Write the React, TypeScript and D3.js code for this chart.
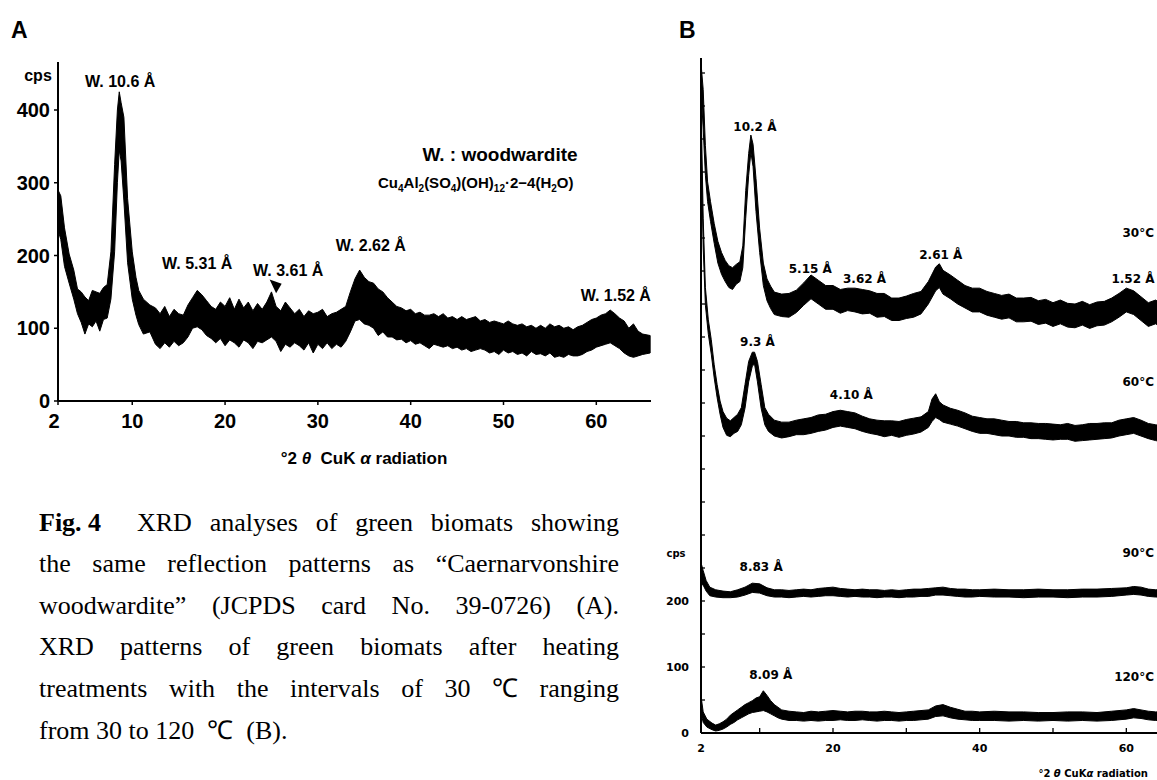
import React from 'react';
import * as d3 from 'd3';

// ---------- DATA ----------
// Panel A: [2theta, lower edge of noise band (cps), upper edge (cps)]
const patternA: [number, number, number][] = [
  [2.0, 235, 290], [2.3, 222, 282], [2.7, 185, 238], [3.2, 162, 202], [3.7, 140, 180],
  [4.1, 120, 154], [4.5, 108, 150], [4.9, 92, 143], [5.3, 106, 138], [5.7, 102, 152],
  [6.1, 110, 150], [6.5, 96, 148], [6.9, 112, 156], [7.3, 114, 160], [7.7, 140, 205],
  [8.1, 205, 325], [8.4, 300, 400], [8.6, 345, 425], [8.8, 330, 410], [9.1, 275, 390],
  [9.5, 190, 278], [10.0, 140, 205], [10.4, 118, 170], [10.7, 105, 152], [11.2, 92, 140],
  [11.9, 95, 132], [12.5, 78, 128], [13.0, 72, 120], [13.5, 80, 130], [14.0, 74, 116],
  [14.5, 82, 126], [15.0, 76, 120], [15.5, 80, 118], [16.0, 88, 132], [16.5, 100, 142],
  [17.0, 102, 152], [17.5, 98, 146], [18.0, 90, 138], [18.5, 86, 130], [19.0, 80, 126],
  [19.5, 86, 136], [20.0, 76, 130], [20.5, 84, 142], [21.0, 80, 126], [21.5, 74, 140],
  [22.0, 84, 128], [22.5, 80, 136], [23.0, 72, 124], [23.5, 82, 134], [24.0, 80, 126],
  [24.5, 84, 136], [25.0, 88, 150], [25.5, 82, 130], [26.0, 68, 124], [26.5, 78, 136],
  [27.0, 74, 128], [27.5, 80, 120], [28.0, 76, 126], [28.5, 70, 116], [29.0, 80, 124],
  [29.5, 66, 120], [30.0, 78, 122], [30.5, 72, 126], [31.0, 80, 116], [31.5, 72, 120],
  [32.0, 78, 122], [32.5, 74, 126], [33.0, 82, 130], [33.5, 95, 150], [34.0, 110, 168],
  [34.5, 112, 180], [35.0, 106, 170], [35.5, 104, 164], [36.0, 100, 162], [36.5, 90, 154],
  [37.0, 95, 150], [37.5, 88, 142], [38.0, 88, 136], [38.5, 84, 130], [39.0, 85, 128],
  [39.5, 80, 124], [40.0, 83, 126], [40.5, 78, 120], [41.0, 80, 122], [41.5, 76, 118],
  [42.0, 72, 118], [42.5, 78, 120], [43.0, 76, 116], [43.5, 74, 120], [44.0, 76, 114],
  [44.5, 72, 116], [45.0, 74, 112], [45.5, 70, 116], [46.0, 72, 112], [46.5, 68, 114],
  [47.0, 70, 116], [47.5, 72, 110], [48.0, 70, 112], [48.5, 66, 108], [49.0, 68, 110],
  [49.5, 64, 108], [50.0, 70, 106], [50.5, 66, 110], [51.0, 68, 106], [51.5, 64, 104],
  [52.0, 66, 106], [52.5, 62, 102], [53.0, 68, 104], [53.5, 64, 100], [54.0, 65, 104],
  [54.5, 62, 100], [55.0, 66, 106], [55.5, 60, 102], [56.0, 62, 104], [56.5, 60, 100],
  [57.0, 64, 102], [57.5, 62, 98], [58.0, 62, 102], [58.5, 64, 104], [59.0, 68, 108],
  [59.5, 70, 112], [60.0, 74, 114], [60.5, 76, 118], [61.0, 78, 120], [61.5, 80, 125],
  [62.0, 76, 120], [62.5, 72, 114], [63.0, 66, 110], [63.5, 62, 100], [64.0, 60, 106],
  [64.5, 62, 96], [65.0, 64, 92], [65.8, 66, 90],
];

// Panel B: plotted intensity (cps on the stacked axis), [2theta, low, high]
const pattern30C: [number, number, number][] = [
  [2.0, 975, 1015], [2.3, 915, 975], [2.6, 845, 890], [2.9, 805, 835], [3.3, 775, 805],
  [3.8, 742, 772], [4.3, 712, 745], [4.8, 695, 728], [5.3, 684, 716], [5.8, 675, 708],
  [6.3, 672, 705], [6.8, 680, 710], [7.3, 684, 714], [7.7, 705, 738], [8.1, 780, 822],
  [8.5, 845, 878], [8.8, 880, 906], [9.1, 858, 892], [9.5, 790, 840], [10.0, 728, 764],
  [10.5, 678, 712], [11.0, 655, 688], [11.5, 643, 677], [12, 634, 668], [13, 631, 665],
  [14, 630, 666], [15, 637, 671], [16, 648, 682], [17, 658, 694], [18, 650, 686],
  [19, 642, 678], [20, 642, 678], [21, 636, 672], [22, 640, 674], [23, 638, 674],
  [24, 635, 672], [25, 636, 670], [26, 630, 666], [27, 631, 666], [28, 625, 659],
  [29, 625, 659], [30, 628, 662], [31, 630, 666], [32, 635, 669], [33, 650, 684],
  [34, 670, 706], [34.5, 675, 711], [35, 665, 701], [36, 658, 694], [37, 650, 686],
  [38, 644, 678], [39, 638, 674], [40, 638, 674], [41, 633, 669], [42, 630, 666],
  [43, 627, 663], [44, 629, 665], [45, 623, 659], [46, 623, 659], [47, 624, 660],
  [48, 619, 655], [49, 621, 657], [50, 616, 652], [51, 620, 656], [52, 615, 651],
  [53, 614, 650], [54, 618, 654], [55, 613, 649], [56, 617, 653], [57, 618, 654],
  [58, 623, 659], [59, 630, 666], [60, 638, 674], [61, 634, 670], [62, 625, 661],
  [63, 616, 652], [64, 620, 656], [65, 613, 649],
];

const pattern60C: [number, number, number][] = [
  [2.0, 900, 960], [2.3, 735, 780], [2.6, 648, 675], [3.0, 604, 626], [3.4, 574, 596],
  [3.8, 538, 558], [4.2, 508, 528], [4.6, 483, 503], [5.0, 463, 487], [5.5, 451, 477],
  [6.0, 449, 473], [6.5, 454, 478], [7.0, 457, 483], [7.5, 467, 493], [8.0, 492, 528],
  [8.5, 532, 563], [9.0, 556, 577], [9.3, 559, 577], [9.7, 532, 563], [10.2, 492, 528],
  [10.7, 467, 493], [11.2, 457, 483], [12, 450, 474], [13, 447, 471], [14, 449, 471],
  [15, 452, 474], [16, 452, 476], [17, 454, 478], [18, 457, 482], [19, 459, 483],
  [20, 463, 487], [21, 465, 489], [22, 463, 487], [23, 461, 485], [24, 457, 480],
  [25, 454, 476], [26, 452, 474], [27, 449, 473], [28, 451, 473], [29, 448, 472],
  [30, 451, 475], [31, 453, 477], [32, 456, 479], [33, 463, 487], [33.5, 472, 506],
  [34, 478, 514], [34.5, 475, 502], [35, 471, 497], [36, 468, 492], [37, 465, 489],
  [38, 461, 485], [39, 457, 480], [40, 454, 478], [41, 454, 476], [42, 452, 476],
  [43, 450, 474], [44, 450, 472], [45, 448, 472], [46, 448, 470], [47, 446, 470],
  [48, 446, 469], [49, 445, 469], [50, 444, 468], [51, 445, 467], [52, 445, 469],
  [53, 442, 466], [54, 443, 467], [55, 444, 469], [56, 445, 469], [57, 446, 470],
  [58, 447, 470], [59, 450, 474], [60, 452, 476], [61, 454, 478], [62, 450, 474],
  [63, 446, 469], [64, 443, 467], [65, 441, 465],
];

const pattern90C: [number, number, number][] = [
  [2.0, 226, 258], [2.3, 224, 246], [2.7, 215, 231], [3.2, 208, 221], [4, 206, 217],
  [5, 205, 215], [6, 205, 214], [7, 206, 217], [8, 209, 221], [9, 213, 227], [10, 212, 226],
  [11, 208, 220], [12, 206, 217], [13, 206, 217], [14, 205, 216], [15, 206, 217],
  [16, 207, 218], [17, 206, 217], [18, 207, 219], [19, 208, 220], [20, 208, 221],
  [21, 207, 219], [22, 206, 218], [23, 207, 217], [24, 206, 218], [25, 206, 217],
  [26, 205, 217], [27, 206, 216], [28, 206, 217], [29, 205, 216], [30, 206, 217],
  [31, 206, 218], [32, 207, 218], [33, 207, 219], [34, 209, 220], [35, 209, 221],
  [36, 208, 219], [37, 207, 218], [38, 206, 218], [39, 206, 217], [40, 207, 217],
  [42, 206, 218], [44, 206, 217], [46, 205, 217], [48, 206, 218], [50, 206, 217],
  [52, 205, 217], [54, 206, 218], [56, 206, 218], [58, 207, 219], [60, 209, 220],
  [61, 210, 222], [62, 209, 221], [63, 207, 218], [64, 206, 217], [65, 206, 217],
];

const pattern120C: [number, number, number][] = [
  [2.0, 30, 56], [2.3, 16, 32], [2.8, 9, 21], [3.5, 5, 15], [4.0, 3, 12], [4.5, 4, 14],
  [5.0, 6, 17], [5.5, 9, 21], [6.0, 13, 27], [6.5, 16, 31], [7.0, 20, 35], [7.5, 23, 39],
  [8.0, 26, 43], [8.5, 29, 46], [9.0, 31, 49], [9.5, 32, 53], [10.0, 33, 55], [10.5, 34, 64],
  [11.0, 32, 57], [11.5, 29, 49], [12.0, 26, 43], [12.5, 23, 39], [13, 21, 35], [14, 19, 33],
  [15, 19, 32], [16, 18, 31], [17, 19, 33], [18, 18, 32], [19, 19, 33], [20, 19, 34],
  [21, 20, 33], [22, 19, 32], [23, 19, 33], [24, 20, 33], [25, 19, 32], [26, 18, 32],
  [27, 19, 33], [28, 19, 32], [29, 18, 31], [30, 19, 32], [31, 19, 33], [32, 20, 34],
  [33, 21, 35], [34, 25, 41], [35, 26, 43], [36, 23, 39], [37, 21, 36], [38, 20, 33],
  [39, 19, 33], [40, 19, 32], [42, 19, 33], [44, 18, 32], [46, 19, 32], [48, 18, 31],
  [50, 19, 31], [52, 18, 32], [54, 19, 32], [56, 18, 31], [58, 19, 33], [60, 21, 35],
  [61, 23, 37], [62, 22, 35], [63, 20, 33], [64, 19, 32], [65, 19, 32],
];

const ticksAX = [2, 10, 20, 30, 40, 50, 60];
const ticksAY = [0, 100, 200, 300, 400];
const ticksBX = [10, 20, 30, 40, 50, 60];
const labelsBX = [2, 20, 40, 60];
const ticksBY = d3.range(0, 1001, 50);
const labelsBY = [0, 100, 200];

// annotations: [text, 2theta, cps] (label centre)
const annA: [string, number, number][] = [
  ['W. 10.6 Å', 8.7, 440],
  ['W. 5.31 Å', 17.0, 190],
  ['W. 3.61 Å', 26.8, 180],
  ['W. 2.62 Å', 35.7, 214],
  ['W. 1.52 Å', 62.1, 146],
];
const annB: [string, number, number][] = [
  ['10.2 Å', 9.35, 918],
  ['5.15 Å', 16.9, 703],
  ['3.62 Å', 24.3, 688],
  ['2.61 Å', 34.7, 724],
  ['1.52 Å', 60.9, 688],
  ['9.3 Å', 9.7, 592],
  ['4.10 Å', 22.5, 512],
  ['8.83 Å', 10.2, 251],
  ['8.09 Å', 11.5, 88],
];
const tempB: [string, number][] = [['30°C', 758], ['60°C', 532], ['90°C', 273], ['120°C', 85]];

const captionLines: string[] = [
  'XRD analyses of green biomats showing',
  'the same reflection patterns as “Caernarvonshire',
  'woodwardite” (JCPDS card No. 39-0726) (A).',
  'XRD patterns of green biomats after heating',
  'treatments with the intervals of 30 ℃ ranging',
];
const captionLast = ['from', '30', 'to', '120', ' ℃ ', '(B).'];

// ---------- LAYOUT ----------
const W = 1157;
const H = 780;
const xA = d3.scaleLinear().domain([2, 66]).range([58, 652]);
const yA = d3.scaleLinear().domain([0, 400]).range([401, 110]);
const xB = d3.scaleLinear().domain([2, 65]).range([701, 1163]);
const yB = d3.scaleLinear().domain([0, 1000]).range([733, 73]);

const SANS = "'Liberation Sans', Arial, sans-serif";
const SANS_B = "'DejaVu Sans', 'Liberation Sans', sans-serif";
const SERIF = "'Liberation Serif', 'Times New Roman', serif";

function bandPath(data: [number, number, number][], x: d3.ScaleLinear<number, number>, y: d3.ScaleLinear<number, number>) {
  const area = d3
    .area<[number, number, number]>()
    .x((d) => x(d[0]))
    .y0((d) => y(d[1]))
    .y1((d) => y(d[2]))
    .curve(d3.curveLinear);
  return area(data) || '';
}

let ctx: CanvasRenderingContext2D | null = null;
function measure(t: string, font: string): number {
  if (!ctx) ctx = document.createElement('canvas').getContext('2d');
  if (!ctx) return t.length * 11;
  ctx.font = font;
  return ctx.measureText(t).width;
}

const CAP_FONT = 26;
const capFont = `${CAP_FONT}px 'Liberation Serif', 'Times New Roman', serif`;
const capBaselines = [531, 572, 614, 655, 697, 739];

function justify(words: string[], x0: number, x1: number) {
  const widths = words.map((w) => measure(w, capFont));
  const total = widths.reduce((a, b) => a + b, 0);
  const gap = words.length > 1 ? (x1 - x0 - total) / (words.length - 1) : 0;
  const out: { w: string; x: number }[] = [];
  let x = x0;
  words.forEach((w, i) => {
    out.push({ w, x });
    x += widths[i] + gap;
  });
  return out;
}

export default function App() {
  const bandStyle = { fill: '#000', stroke: '#000', strokeWidth: 1, strokeLinejoin: 'round' as const };

  const line1 = justify(captionLines[0].split(' '), 137, 619);
  const otherLines = captionLines.slice(1).map((l) => justify(l.split(' '), 39, 619));
  let lx = 39;
  const lastLine = captionLast.map((w) => {
    const p = { w, x: lx };
    lx += measure(w, capFont) + 6.5;
    return p;
  });

  return (
    <svg
      width={W}
      height={H}
      viewBox={`0 0 ${W} ${H}`}
      style={{ position: 'absolute', left: 0, top: 0, background: '#fff' }}
    >
      <rect x={0} y={0} width={W} height={H} fill="#fff" />

      {/* ---------- Panel A ---------- */}
      <text x={11} y={38} fontFamily={SANS} fontWeight="bold" fontSize={23}>A</text>
      <text x={38} y={81} textAnchor="middle" fontFamily={SANS} fontWeight="bold" fontSize={16}>cps</text>

      <path d={bandPath(patternA, xA, yA)} {...bandStyle} />

      <line x1={xA(2)} x2={xA(2)} y1={62} y2={yA(0)} stroke="#000" strokeWidth={2} />
      <line x1={xA(2)} x2={651} y1={yA(0)} y2={yA(0)} stroke="#000" strokeWidth={2} />
      {ticksAY.map((t) => (
        <g key={'ay' + t}>
          <line x1={xA(2) - 4} x2={xA(2)} y1={yA(t)} y2={yA(t)} stroke="#000" strokeWidth={1.5} />
          <text x={50} y={yA(t) + 7} textAnchor="end" fontFamily={SANS} fontWeight="bold" fontSize={20}>{t}</text>
        </g>
      ))}
      {ticksAX.map((t) => (
        <g key={'ax' + t}>
          <line x1={xA(t)} x2={xA(t)} y1={yA(0)} y2={yA(0) + 4} stroke="#000" strokeWidth={1.5} />
          <text x={xA(t) - (t === 2 ? 4 : 0)} y={yA(0) + 27} textAnchor="middle" fontFamily={SANS} fontWeight="bold" fontSize={20}>{t}</text>
        </g>
      ))}
      <text x={364} y={464} textAnchor="middle" fontFamily={SANS} fontWeight="bold" fontSize={17} style={{ whiteSpace: 'pre' }}>
        {'°2 '}<tspan fontStyle="italic">θ</tspan>{'  CuK '}<tspan fontStyle="italic">α</tspan>{' radiation'}
      </text>

      {annA.map(([t, x, y]) => (
        <text key={t} x={xA(x)} y={yA(y) + 6} textAnchor="middle" fontFamily={SANS} fontWeight="bold" fontSize={16}>{t}</text>
      ))}
      <polygon
        points={`${xA(25.5)},${yA(148)} ${xA(24.8)},${yA(167)} ${xA(26.1)},${yA(161)}`}
        fill="#000"
      />
      <text x={500} y={161} textAnchor="middle" fontFamily={SANS} fontWeight="bold" fontSize={19}>W. : woodwardite</text>
      <text x={378} y={188} fontFamily={SANS} fontSize={15} fontWeight="bold">
        Cu<tspan dy={4} fontSize={10}>4</tspan>
        <tspan dy={-4}>Al</tspan><tspan dy={4} fontSize={10}>2</tspan>
        <tspan dy={-4}>(SO</tspan><tspan dy={4} fontSize={10}>4</tspan>
        <tspan dy={-4}>)(OH)</tspan><tspan dy={4} fontSize={10}>12</tspan>
        <tspan dy={-4}>·2−4(H</tspan><tspan dy={4} fontSize={10}>2</tspan>
        <tspan dy={-4}>O)</tspan>
      </text>

      {/* ---------- Caption ---------- */}
      <text x={39} y={capBaselines[0]} fontFamily={SERIF} fontWeight="bold" fontSize={CAP_FONT}>Fig. 4</text>
      {line1.map((p, i) => (
        <text key={'l1' + i} x={p.x} y={capBaselines[0]} fontFamily={SERIF} fontSize={CAP_FONT}>{p.w}</text>
      ))}
      {otherLines.map((ln, li) =>
        ln.map((p, i) => (
          <text key={`l${li}-${i}`} x={p.x} y={capBaselines[li + 1]} fontFamily={SERIF} fontSize={CAP_FONT}>{p.w}</text>
        ))
      )}
      {lastLine.map((p, i) => (
        <text key={'last' + i} x={p.x} y={capBaselines[5]} fontFamily={SERIF} fontSize={CAP_FONT} style={{ whiteSpace: 'pre' }}>{p.w}</text>
      ))}

      {/* ---------- Panel B ---------- */}
      <text x={679} y={38} fontFamily={SANS} fontWeight="bold" fontSize={23}>B</text>

      <path d={bandPath(pattern120C, xB, yB)} {...bandStyle} />
      <path d={bandPath(pattern90C, xB, yB)} {...bandStyle} />
      <path d={bandPath(pattern60C, xB, yB)} {...bandStyle} />
      <path d={bandPath(pattern30C, xB, yB)} {...bandStyle} />

      <line x1={xB(2)} x2={xB(2)} y1={58} y2={yB(0)} stroke="#000" strokeWidth={2} />
      <line x1={xB(2)} x2={W} y1={yB(0)} y2={yB(0)} stroke="#000" strokeWidth={2} />
      {ticksBY.map((t) => (
        <line key={'by' + t} x1={xB(2)} x2={xB(2) + 4} y1={yB(t)} y2={yB(t)} stroke="#000" strokeWidth={1.3} />
      ))}
      {labelsBY.map((t) => (
        <text key={'byl' + t} x={689} y={yB(t) + 4} textAnchor="end" fontFamily={SANS_B} fontWeight="bold" fontSize={11}>{t}</text>
      ))}
      <text x={676} y={557} textAnchor="middle" fontFamily={SANS_B} fontWeight="bold" fontSize={10}>cps</text>
      {ticksBX.map((t) => (
        <line key={'bx' + t} x1={xB(t)} x2={xB(t)} y1={yB(0) - 5} y2={yB(0)} stroke="#000" strokeWidth={1.3} />
      ))}
      {labelsBX.map((t) => (
        <text key={'bxl' + t} x={xB(t)} y={yB(0) + 19} textAnchor="middle" fontFamily={SANS_B} fontWeight="bold" fontSize={11}>{t}</text>
      ))}
      <text x={1148} y={777} textAnchor="end" fontFamily={SANS_B} fontWeight="bold" fontSize={10}>
        °2 <tspan fontStyle="italic">θ</tspan> CuK<tspan fontStyle="italic">α</tspan> radiation
      </text>

      {annB.map(([t, x, y]) => (
        <text key={t} x={xB(x)} y={yB(y) + 4} textAnchor="middle" fontFamily={SANS_B} fontWeight="bold" fontSize={12}>{t}</text>
      ))}
      {tempB.map(([t, y]) => (
        <text key={t} x={1154} y={yB(y) + 4} textAnchor="end" fontFamily={SANS_B} fontWeight="bold" fontSize={12}>{t}</text>
      ))}
    </svg>
  );
}
